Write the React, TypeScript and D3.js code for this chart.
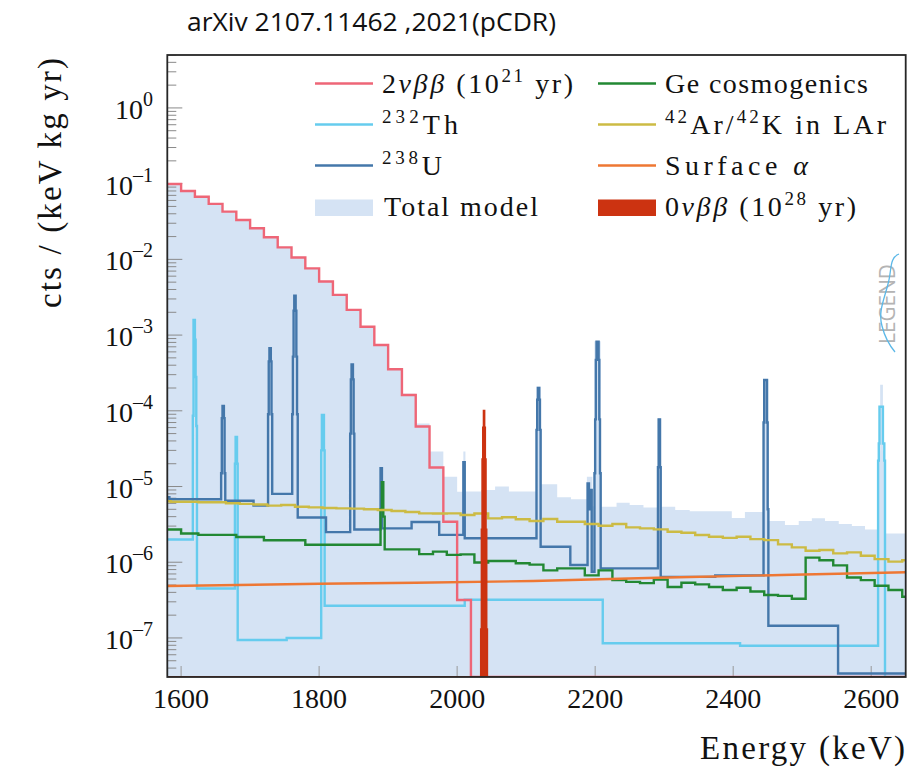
import React from 'react';
import * as d3 from 'd3';

// ---------- axis domains & ticks ----------
const X_MIN = 1580;
const X_MAX = 2650;
const Y_MIN = 3.05e-8;
const Y_MAX = 5;
const xTicks = [1600, 1800, 2000, 2200, 2400, 2600];
const yDecades = [-7, -6, -5, -4, -3, -2, -1, 0];

// ---------- 2νββ (step histogram, value applies from edge[i] to edge[i+1]) ----------
const twoNuEdges = [1580, 1600, 1620, 1640, 1660, 1680, 1700, 1720, 1740, 1760, 1780, 1800, 1820, 1840, 1860, 1880, 1900, 1920, 1940, 1960, 1980, 2000, 2020, 2650];
const twoNuValues = [0.099, 0.08, 0.067, 0.054, 0.0427, 0.0331, 0.0257, 0.0196, 0.0144, 0.0106, 0.0076, 0.0051, 0.0034, 0.00215, 0.00129, 0.00074, 0.000353, 0.000162, 6.2e-5, 1.78e-5, 3.43e-6, 3.17e-7, 0];

// ---------- 232Th ----------
const thEdges = [1580, 1617, 1618, 1620, 1621, 1622, 1623, 1678, 1679, 1681, 1682, 1753, 1803, 1804, 1807, 1808, 2011, 2211, 2410, 2610, 2611, 2612, 2617, 2619, 2620, 2650];
const thValues = [2.0e-6, 8.6e-5, 1.58e-3, 8.7e-4, 2.8e-4, 6.3e-5, 4.5e-7, 2e-5, 4.5e-5, 2e-5, 9.4e-8, 1.0e-7, 3e-5, 8.8e-5, 3e-5, 2.66e-7, 3.2e-7, 8.5e-8, 7.9e-8, 2.2e-5, 3.7e-5, 1.13e-4, 3.7e-5, 2.2e-5, 0];

// ---------- 238U ----------
const uEdges = [1580, 1583, 1658, 1659, 1660, 1662, 1663, 1664, 1705, 1726, 1727, 1728, 1730, 1731, 1732, 1761, 1762, 1763, 1764, 1766, 1767, 1768, 1769, 1810, 1845, 1846, 1847, 1849, 1850, 1851, 1889, 1891, 1934, 1974, 2009, 2011, 2115, 2116, 2117, 2119, 2120, 2121, 2164, 2189, 2191, 2193, 2195, 2199, 2200, 2201, 2202, 2205, 2206, 2207, 2208, 2291, 2292, 2294, 2295, 2374, 2444, 2445, 2449, 2450, 2451, 2552, 2650];
const uValues = [7.2e-6, 6.8e-6, 1.5e-5, 8e-5, 1.16e-4, 8e-5, 1.5e-5, 6.5e-6, 5.6e-6, 9e-5, 4.5e-4, 6.7e-4, 4.5e-4, 9e-5, 8e-6, 9e-5, 5.2e-4, 2.1e-3, 3.3e-3, 2.1e-3, 5.2e-4, 9e-5, 3.9e-6, 2.5e-6, 5e-5, 2.6e-4, 4.1e-4, 2.6e-4, 5e-5, 2.7e-6, 1.74e-5, 2.8e-6, 3.4e-6, 2.3e-6, 2.1e-5, 2.07e-6, 5.6e-5, 1.4e-4, 2e-4, 1.4e-4, 5.6e-5, 1.6e-6, 9.2e-7, 1.1e-5, 5e-6, 9e-6, 7.5e-7, 1.5e-5, 7.7e-5, 4.7e-4, 8.2e-4, 4.7e-4, 7.7e-5, 1.5e-5, 8.3e-7, 1.8e-5, 7.7e-5, 1.8e-5, 6.4e-7, 6.7e-7, 7e-5, 2.55e-4, 7e-5, 5e-6, 1.45e-7, 3.4e-8];

// ---------- Ge cosmogenics ----------
const geEdges = [1580, 1600, 1625, 1680, 1720, 1780, 1889, 1891, 1893, 1895, 1945, 1965, 1985, 2005, 2025, 2045, 2085, 2105, 2125, 2145, 2185, 2205, 2225, 2245, 2265, 2285, 2305, 2325, 2345, 2365, 2385, 2405, 2425, 2445, 2465, 2485, 2505, 2525, 2545, 2565, 2585, 2605, 2625, 2645, 2650];
const geValues = [2.7e-6, 2.4e-6, 2.3e-6, 2.15e-6, 1.95e-6, 1.7e-6, 5e-6, 1.14e-5, 4e-6, 1.48e-6, 1.28e-6, 1.38e-6, 1.25e-6, 1.27e-6, 9.9e-7, 1.04e-6, 9.7e-7, 9.3e-7, 7.8e-7, 8.3e-7, 6.7e-7, 7.8e-7, 5.8e-7, 5.5e-7, 5.3e-7, 5.9e-7, 4.7e-7, 5.37e-7, 5.1e-7, 4.7e-7, 4.3e-7, 4.6e-7, 4.1e-7, 3.7e-7, 3.6e-7, 3.3e-7, 1.15e-6, 1.06e-6, 9.1e-7, 6.3e-7, 5.8e-7, 4.9e-7, 4.3e-7, 3.5e-7];

// ---------- 42Ar/42K in LAr (20 keV bins) ----------
const arEdges = [1580, ...d3.range(1585, 2650, 20), 2650];
const arValues = [6.4e-6, 6.3e-6, 6.3e-6, 6.2e-6, 6.2e-6, 6.0e-6, 5.9e-6, 5.8e-6, 5.6e-6, 5.7e-6, 5.4e-6, 5.3e-6, 5.2e-6, 5.15e-6, 5.1e-6, 5.0e-6, 4.9e-6, 4.75e-6, 4.6e-6, 4.42e-6, 4.4e-6, 4.42e-6, 4.2e-6, 4.4e-6, 3.8e-6, 3.92e-6, 3.69e-6, 3.5e-6, 3.72e-6, 3.43e-6, 3.43e-6, 3.2e-6, 3.03e-6, 3.2e-6, 2.89e-6, 2.8e-6, 2.72e-6, 2.53e-6, 2.45e-6, 2.29e-6, 2.17e-6, 2.1e-6, 2.17e-6, 2.02e-6, 1.96e-6, 1.72e-6, 1.57e-6, 1.42e-6, 1.45e-6, 1.31e-6, 1.35e-6, 1.22e-6, 1.1e-6, 1.02e-6, 1.06e-6];

// ---------- Surface alpha ----------
const alphaEnergies = [1580, 1800, 1940, 2110, 2290, 2470, 2650];
const alphaValues = [4.85e-7, 5.2e-7, 5.36e-7, 5.65e-7, 6.24e-7, 6.78e-7, 7.36e-7];

// ---------- 0νββ (10^28 yr) ----------
const zeroNuEdges = [1580, 2034.5, 2035.5, 2036.5, 2037.5, 2038.5, 2039.5, 2040.5, 2041.5, 2042.5, 2043.5, 2650];
const zeroNuValues = [0, 1.3e-7, 2.7e-6, 2.3e-5, 6e-5, 1e-4, 6e-5, 2.3e-5, 2.7e-6, 1.3e-7, 0];

// ---------- Total model ----------
const totalEdges = [1580, 1600, 1620, 1640, 1660, 1680, 1700, 1720, 1740, 1760, 1780, 1800, 1820, 1840, 1860, 1880, 1900, 1920, 1940, 1960, 1980, 2000, 2009, 2012, 2035, 2055, 2075, 2115, 2121, 2145, 2165, 2188, 2196, 2199, 2208, 2231, 2250, 2270, 2291, 2295, 2316, 2337, 2398, 2417, 2444, 2451, 2475, 2495, 2514, 2533, 2553, 2572, 2591, 2610, 2613, 2617, 2620, 2650];
const totalValues = [0.1, 0.081, 0.068, 0.055, 0.0433, 0.0336, 0.0261, 0.0199, 0.0146, 0.0108, 0.0077, 0.0052, 0.0035, 0.00218, 0.00131, 0.00075, 0.00036, 0.000168, 6.8e-5, 2.9e-5, 1.35e-5, 8.5e-6, 2.9e-5, 8.6e-6, 9.0e-6, 1.0e-5, 8.6e-6, 2.1e-4, 1.07e-5, 7.2e-6, 6.8e-6, 1.35e-5, 5.5e-6, 8.3e-4, 5.4e-6, 6.1e-6, 5.7e-6, 5.3e-6, 8e-5, 5.4e-6, 4.9e-6, 4.7e-6, 3.85e-6, 4.6e-6, 2.6e-4, 3.5e-6, 3.1e-6, 3.5e-6, 3.8e-6, 3.5e-6, 3.2e-6, 3.0e-6, 2.7e-6, 3e-5, 2.2e-4, 3e-5, 2.4e-6];

// ---------- colours ----------
const C_2NU = '#EE6677';
const C_TH = '#66CCEE';
const C_U = '#4477AA';
const C_GE = '#228833';
const C_AR = '#CCBB44';
const C_ALPHA = '#EE7733';
const C_0NU = '#CC3311';
const C_TOTAL = '#d5e3f4';

const SERIF = 'Liberation Serif';
const SANS = 'Open Sans';

export default function App() {
  const W = 912;
  const H = 768;
  const L = 167.3;
  const R = 905.7;
  const T = 55;
  const B = 677;

  const x = d3.scaleLinear().domain([X_MIN, X_MAX]).range([L, R]);
  const y = d3.scaleLog().domain([Y_MIN, Y_MAX]).range([B, T]);
  const yc = (v: number) => y(Math.max(v, Y_MIN));

  const toPts = (edges: number[], values: number[]) => {
    const pts: [number, number][] = values.map((v, i) => [edges[i], v]);
    pts.push([edges[edges.length - 1], values[values.length - 1]]);
    return pts;
  };
  const stepLine = d3.line<[number, number]>().x(d => x(d[0])).y(d => yc(d[1])).curve(d3.curveStepAfter);
  const stepArea = d3.area<[number, number]>().x(d => x(d[0])).y0(B).y1(d => yc(d[1])).curve(d3.curveStepAfter);
  const plainLine = d3.line<[number, number]>().x(d => x(d[0])).y(d => yc(d[1]));

  const minorTicks: number[] = [];
  for (let d = -8; d <= 0; d++) {
    for (let m = 2; m <= 9; m++) {
      const v = m * Math.pow(10, d);
      if (v >= Y_MIN && v <= Y_MAX) minorTicks.push(v);
    }
  }

  const lw = 2.4;
  const legendRows = [93, 134, 175, 216];
  const c1Line = [315, 373];
  const c2Line = [598, 656];
  const c1Text = 382;
  const c2Text = 665;
  const legFont = 28;
  const supFont = 19;

  return (
    <div style={{ position: 'absolute', left: 0, top: 0 }}>
      <svg width={W} height={H} viewBox={`0 0 ${W} ${H}`} style={{ display: 'block', background: '#fff' }}>
        <defs>
          <clipPath id="plotclip">
            <rect x={L} y={T} width={R - L} height={B - T} />
          </clipPath>
        </defs>

        {/* title */}
        <text x={187} y={31} fontFamily={SANS} fontSize={26} fill="#111" textLength={369} lengthAdjust="spacingAndGlyphs">
          arXiv 2107.11462 ,2021(pCDR)
        </text>

        {/* x tick labels */}
        {xTicks.map(t => (
          <text key={'xl' + t} x={x(t)} y={708} textAnchor="middle" fontFamily={SERIF} fontSize={28} fill="#111">{String(t)}</text>
        ))}

        {/* y tick labels */}
        {yDecades.map(d => (
          <text key={'yl' + d} x={153} y={y(Math.pow(10, d)) + 11} textAnchor="end" fontFamily={SERIF} fontSize={28} fill="#111">
            10<tspan dy={-13} fontSize={20}>{d === 0 ? '0' : '\u2013' + Math.abs(d)}</tspan>
          </text>
        ))}

        {/* axis labels */}
        <text x={905} y={759} textAnchor="end" fontFamily={SERIF} fontSize={33} fill="#111" textLength={205} lengthAdjust="spacing">Energy (keV)</text>
        <text transform="translate(61, 58) rotate(-90)" textAnchor="end" fontFamily={SERIF} fontSize={33} fill="#111" textLength={250} lengthAdjust="spacing">cts / (keV kg yr)</text>

        <g clipPath="url(#plotclip)">
          <path d={stepArea(toPts(totalEdges, totalValues)) || ''} fill={C_TOTAL} stroke="none" />

          {minorTicks.map((v, i) => (
            <line key={'mt' + i} x1={L} x2={L + 9} y1={y(v)} y2={y(v)} stroke="#8a8a8a" strokeWidth={1} />
          ))}
          {yDecades.map(d => (
            <line key={'Mt' + d} x1={L} x2={L + 15} y1={y(Math.pow(10, d))} y2={y(Math.pow(10, d))} stroke="#8a8a8a" strokeWidth={1} />
          ))}
          {xTicks.map(t => (
            <line key={'xt' + t} x1={x(t)} x2={x(t)} y1={B} y2={B - 11} stroke="#999" strokeWidth={1} />
          ))}

          <path d={stepLine(toPts(thEdges, thValues)) || ''} fill="none" stroke={C_TH} strokeWidth={lw} />
          <path d={stepLine(toPts(uEdges, uValues)) || ''} fill="none" stroke={C_U} strokeWidth={lw} />
          <path d={stepLine(toPts(twoNuEdges, twoNuValues)) || ''} fill="none" stroke={C_2NU} strokeWidth={lw} />
          <path d={stepLine(toPts(geEdges, geValues)) || ''} fill="none" stroke={C_GE} strokeWidth={lw} />
          <path d={stepLine(toPts(arEdges, arValues)) || ''} fill="none" stroke={C_AR} strokeWidth={lw} />
          <path d={plainLine(alphaEnergies.map((e, i) => [e, alphaValues[i]] as [number, number])) || ''} fill="none" stroke={C_ALPHA} strokeWidth={lw} />
          <path d={stepArea(toPts(zeroNuEdges, zeroNuValues)) || ''} fill={C_0NU} stroke="none" />
          <path d={stepLine(toPts(zeroNuEdges, zeroNuValues)) || ''} fill="none" stroke={C_0NU} strokeWidth={2} />
        </g>

        {/* frame */}
        <rect x={L} y={T} width={R - L} height={B - T} fill="none" stroke="#262626" strokeWidth={1.8} />

        {/* LEGEND logo */}
        <text transform="translate(895, 344) rotate(-90)" fontFamily={SANS} fontSize={22} fill="#b4b4b4" textLength={80} lengthAdjust="spacingAndGlyphs">LEGEND</text>
        <path d="M 899 254 C 889 258, 892 270, 888 284 C 884 300, 878 312, 882 326 C 885 338, 890 346, 895 352" fill="none" stroke="#5bb8e8" strokeWidth={1.3} />

        {/* legend */}
        <line x1={c1Line[0]} x2={c1Line[1]} y1={legendRows[0] - 9.5} y2={legendRows[0] - 9.5} stroke={C_2NU} strokeWidth={lw} />
        <text x={c1Text} y={legendRows[0]} fontFamily={SERIF} fontSize={legFont} fill="#111" textLength={191} lengthAdjust="spacing">
          2<tspan fontStyle="italic">νββ</tspan> (10<tspan dy={-11} fontSize={supFont}>21</tspan><tspan dy={11}> yr)</tspan>
        </text>

        <line x1={c1Line[0]} x2={c1Line[1]} y1={legendRows[1] - 9.5} y2={legendRows[1] - 9.5} stroke={C_TH} strokeWidth={lw} />
        <text x={c1Text} y={legendRows[1]} fontFamily={SERIF} fontSize={legFont} fill="#111" textLength={76} lengthAdjust="spacing">
          <tspan dy={-11} fontSize={supFont}>232</tspan><tspan dy={11}>Th</tspan>
        </text>

        <line x1={c1Line[0]} x2={c1Line[1]} y1={legendRows[2] - 9.5} y2={legendRows[2] - 9.5} stroke={C_U} strokeWidth={lw} />
        <text x={c1Text} y={legendRows[2]} fontFamily={SERIF} fontSize={legFont} fill="#111" textLength={60} lengthAdjust="spacing">
          <tspan dy={-11} fontSize={supFont}>238</tspan><tspan dy={11}>U</tspan>
        </text>

        <rect x={c1Line[0]} y={legendRows[3] - 16.5} width={c1Line[1] - c1Line[0]} height={16.5} fill={C_TOTAL} />
        <text x={c1Text + 2} y={legendRows[3]} fontFamily={SERIF} fontSize={legFont} fill="#111" textLength={154} lengthAdjust="spacing">Total model</text>

        <line x1={c2Line[0]} x2={c2Line[1]} y1={legendRows[0] - 9.5} y2={legendRows[0] - 9.5} stroke={C_GE} strokeWidth={lw} />
        <text x={c2Text} y={legendRows[0]} fontFamily={SERIF} fontSize={legFont} fill="#111" textLength={203} lengthAdjust="spacing">Ge cosmogenics</text>

        <line x1={c2Line[0]} x2={c2Line[1]} y1={legendRows[1] - 9.5} y2={legendRows[1] - 9.5} stroke={C_AR} strokeWidth={lw} />
        <text x={c2Text} y={legendRows[1]} fontFamily={SERIF} fontSize={legFont} fill="#111" textLength={221} lengthAdjust="spacing">
          <tspan dy={-11} fontSize={supFont}>42</tspan><tspan dy={11}>Ar/</tspan><tspan dy={-11} fontSize={supFont}>42</tspan><tspan dy={11}>K in LAr</tspan>
        </text>

        <line x1={c2Line[0]} x2={c2Line[1]} y1={legendRows[2] - 9.5} y2={legendRows[2] - 9.5} stroke={C_ALPHA} strokeWidth={lw} />
        <text x={c2Text} y={legendRows[2]} fontFamily={SERIF} fontSize={legFont} fill="#111" textLength={143} lengthAdjust="spacing">
          Surface <tspan fontStyle="italic">α</tspan>
        </text>

        <rect x={c2Line[0]} y={legendRows[3] - 16.5} width={c2Line[1] - c2Line[0]} height={16.5} fill={C_0NU} />
        <text x={c2Text} y={legendRows[3]} fontFamily={SERIF} fontSize={legFont} fill="#111" textLength={191} lengthAdjust="spacing">
          0<tspan fontStyle="italic">νββ</tspan> (10<tspan dy={-11} fontSize={supFont}>28</tspan><tspan dy={11}> yr)</tspan>
        </text>
      </svg>
    </div>
  );
}
